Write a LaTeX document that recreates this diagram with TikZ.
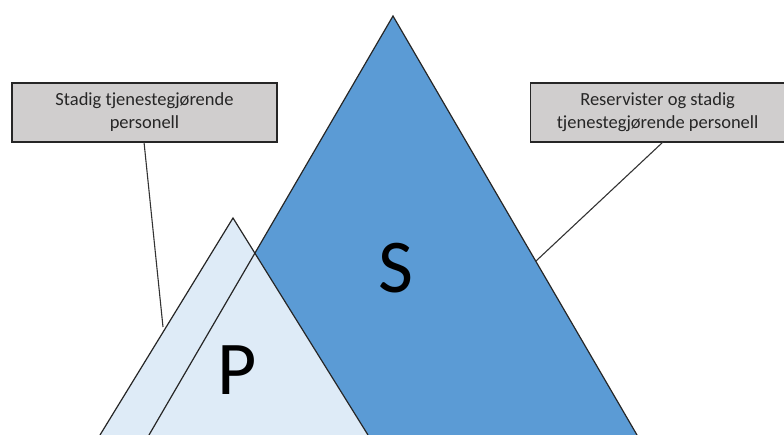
\documentclass[tikz,border=0pt]{standalone}
\usepackage{fontspec}
\setmainfont{Carlito}
\definecolor{sblue}{HTML}{5B9BD5}
\definecolor{plight}{HTML}{DEEBF7}
\definecolor{boxgray}{HTML}{D0CECE}
\definecolor{txt}{HTML}{262626}
\begin{document}
\begin{tikzpicture}[x=1pt,y=-1pt,
  edge/.style={draw=black!85,line width=1.2pt,line join=miter},
  callout/.style={draw=black!85,line width=1.2pt,fill=boxgray,text=txt,align=center,font=\fontsize{18.5}{23}\selectfont,inner sep=0pt},
  leader/.style={draw=black!80,line width=1.1pt},
  big/.style={font=\fontsize{76}{76}\selectfont}]
\useasboundingbox (0,0) rectangle (784,435);
\begin{scope}
\clip (0,0) rectangle (784,435);
% blue triangle
\coordinate (sa) at (393,16);
\coordinate (sl) at (149,435);
\coordinate (sr) at (637,435);
\fill[sblue] (sa) -- (sl) -- (sr) -- cycle;
% light triangle
\coordinate (pa) at (233,218);
\coordinate (pl) at (100,435);
\coordinate (pr) at (368,435);
\fill[plight] (pa) -- (pl) -- (pr) -- cycle;
\draw[edge] (pl) -- (pa) -- (pr);
\draw[edge] (sl) -- (sa) -- (sr);
\end{scope}
\node[big] (S) at (396,268) {S};
\node[big] (P) at (237,370) {P};
\node[callout,minimum width=265pt,minimum height=59pt] (b1) at (144.5,112.5) {Stadig tjenestegjørende\\personell};
\node[callout,minimum width=254pt,minimum height=59pt,anchor=west] (b2) at (530,112.5) {Reservister og stadig\\tjenestegjørende personell};
\coordinate (s1) at (144,142);
\coordinate (e1) at (163,327);
\coordinate (s2) at (663,142);
\coordinate (e2) at (536,261);
\draw[leader] (s1) -- (e1);
\draw[leader] (s2) -- (e2);
\end{tikzpicture}
\end{document}
